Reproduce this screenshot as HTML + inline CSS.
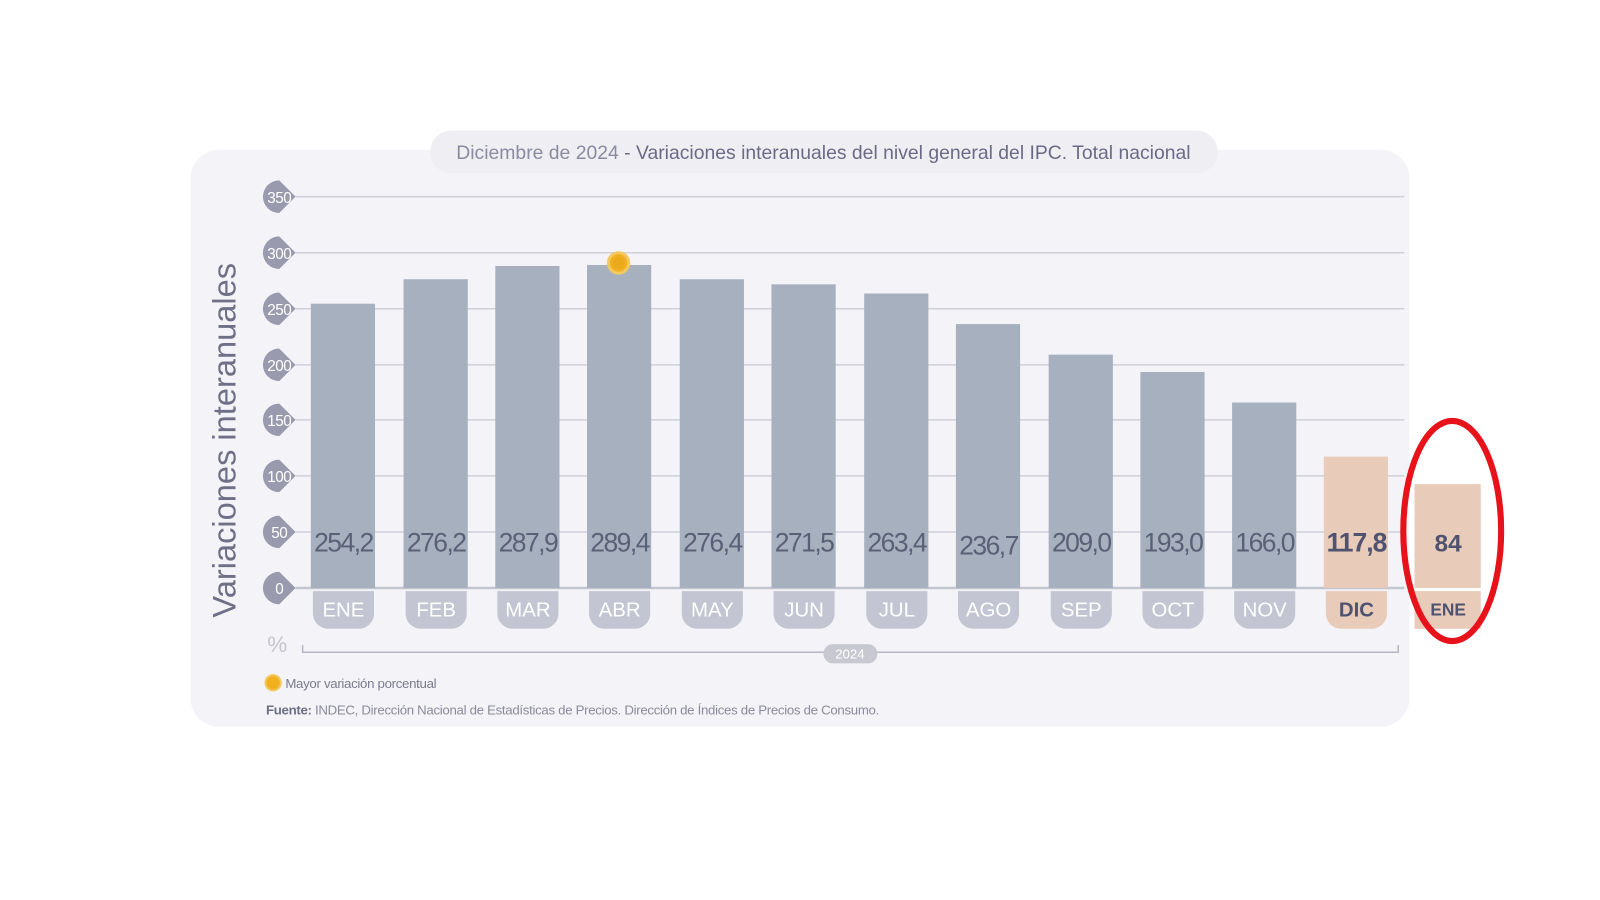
<!DOCTYPE html>
<html><head><meta charset="utf-8"><style>
html,body{margin:0;padding:0;background:#fff;}
svg{display:block;font-family:"Liberation Sans",sans-serif;}
</style></head><body>
<svg width="1600" height="900" viewBox="0 0 1600 900" xmlns="http://www.w3.org/2000/svg">
<rect width="1600" height="900" fill="#fff"/>
<g transform="scale(1.0191)">
<rect x="187" y="147" width="1196" height="566" rx="28" fill="#f4f4f8"/>
<rect x="422" y="128" width="773" height="42" rx="21" fill="#efeff3"/>
<text x="808" y="156" text-anchor="middle" font-size="19" fill="#6b6a86"><tspan fill="#8a8aa0">Diciembre de 2024</tspan> - Variaciones interanuales del nivel general del IPC. Total nacional</text>
<text transform="translate(231,432) rotate(-90)" text-anchor="middle" font-size="32" fill="#6f7088">Variaciones interanuales</text>
<g stroke="#cfd0d8" stroke-width="1.5">
<line x1="290" y1="193" x2="1378" y2="193"/><line x1="290" y1="248" x2="1378" y2="248"/>
<line x1="290" y1="303" x2="1378" y2="303"/><line x1="290" y1="358" x2="1378" y2="358"/>
<line x1="290" y1="412" x2="1378" y2="412"/><line x1="290" y1="467" x2="1378" y2="467"/>
<line x1="290" y1="522" x2="1378" y2="522"/>
</g>
<line x1="290" y1="577" x2="1378" y2="577" stroke="#c3c5cf" stroke-width="2.5"/>
<g fill="#9a9aae">
<path d="M274 177 a16 16 0 1 0 0 32 l16 -16 z"/>
<path d="M274 232 a16 16 0 1 0 0 32 l16 -16 z"/>
<path d="M274 287 a16 16 0 1 0 0 32 l16 -16 z"/>
<path d="M274 342 a16 16 0 1 0 0 32 l16 -16 z"/>
<path d="M274 396 a16 16 0 1 0 0 32 l16 -16 z"/>
<path d="M274 451 a16 16 0 1 0 0 32 l16 -16 z"/>
<path d="M274 506 a16 16 0 1 0 0 32 l16 -16 z"/>
<path d="M274 561 a16 16 0 1 0 0 32 l16 -16 z"/>
</g>
<g fill="#fff" font-size="15" text-anchor="middle" letter-spacing="-0.5">
<text x="274" y="199">350</text><text x="274" y="254">300</text><text x="274" y="309">250</text>
<text x="274" y="364">200</text><text x="274" y="418">150</text><text x="274" y="473">100</text>
<text x="274" y="528">50</text><text x="274" y="583">0</text>
</g>
<g fill="#a6b0be">
<rect x="305" y="298" width="63" height="279"/>
<rect x="396" y="274" width="63" height="303"/>
<rect x="486" y="261" width="63" height="316"/>
<rect x="576" y="260" width="63" height="317"/>
<rect x="667" y="274" width="63" height="303"/>
<rect x="757" y="279" width="63" height="298"/>
<rect x="848" y="288" width="63" height="289"/>
<rect x="938" y="318" width="63" height="259"/>
<rect x="1029" y="348" width="63" height="229"/>
<rect x="1119" y="365" width="63" height="212"/>
<rect x="1209" y="395" width="63" height="182"/>
</g>
<rect x="1299" y="448" width="63" height="129" fill="#e8cbb9"/>
<rect x="1388" y="475" width="65" height="102" fill="#e8cbb9"/>
<g fill="#c3c6d2">
<path d="M307 580 h60 v22 a15 15 0 0 1 -15 15 h-30 a15 15 0 0 1 -15 -15 z"/>
<path d="M398 580 h60 v22 a15 15 0 0 1 -15 15 h-30 a15 15 0 0 1 -15 -15 z"/>
<path d="M488 580 h60 v22 a15 15 0 0 1 -15 15 h-30 a15 15 0 0 1 -15 -15 z"/>
<path d="M578 580 h60 v22 a15 15 0 0 1 -15 15 h-30 a15 15 0 0 1 -15 -15 z"/>
<path d="M669 580 h60 v22 a15 15 0 0 1 -15 15 h-30 a15 15 0 0 1 -15 -15 z"/>
<path d="M759 580 h60 v22 a15 15 0 0 1 -15 15 h-30 a15 15 0 0 1 -15 -15 z"/>
<path d="M850 580 h60 v22 a15 15 0 0 1 -15 15 h-30 a15 15 0 0 1 -15 -15 z"/>
<path d="M940 580 h60 v22 a15 15 0 0 1 -15 15 h-30 a15 15 0 0 1 -15 -15 z"/>
<path d="M1031 580 h60 v22 a15 15 0 0 1 -15 15 h-30 a15 15 0 0 1 -15 -15 z"/>
<path d="M1121 580 h60 v22 a15 15 0 0 1 -15 15 h-30 a15 15 0 0 1 -15 -15 z"/>
<path d="M1211 580 h60 v22 a15 15 0 0 1 -15 15 h-30 a15 15 0 0 1 -15 -15 z"/>
</g>
<path d="M1301 580 h60 v22 a15 15 0 0 1 -15 15 h-30 a15 15 0 0 1 -15 -15 z" fill="#e8cbb9"/>
<rect x="1388" y="580" width="65" height="37" fill="#e8cbb9"/>
<g fill="#fff" font-size="20" text-anchor="middle">
<text x="337" y="605">ENE</text><text x="428" y="605">FEB</text><text x="518" y="605">MAR</text>
<text x="608" y="605">ABR</text><text x="699" y="605">MAY</text><text x="789" y="605">JUN</text>
<text x="880" y="605">JUL</text><text x="970" y="605">AGO</text><text x="1061" y="605">SEP</text>
<text x="1151" y="605">OCT</text><text x="1241" y="605">NOV</text>
</g>
<text x="1331" y="605" text-anchor="middle" font-size="20" font-weight="bold" fill="#4f5370">DIC</text>
<text x="1421" y="604" text-anchor="middle" font-size="17" font-weight="bold" fill="#4f5370">ENE</text>
<g fill="#5a6076" font-size="26" text-anchor="middle" letter-spacing="-1.5">
<text x="337" y="541">254,2</text><text x="428" y="541">276,2</text><text x="518" y="541">287,9</text>
<text x="608" y="541">289,4</text><text x="699" y="541">276,4</text><text x="789" y="541">271,5</text>
<text x="880" y="541">263,4</text><text x="970" y="544">236,7</text><text x="1061" y="541">209,0</text>
<text x="1151" y="541">193,0</text><text x="1241" y="541">166,0</text>
</g>
<text x="1331" y="541" text-anchor="middle" font-size="26" font-weight="bold" letter-spacing="-1" fill="#4f5370">117,8</text>
<text x="1421" y="541" text-anchor="middle" font-size="24" font-weight="bold" fill="#4f5370">84</text>
<circle cx="607" cy="258" r="10" fill="#f0b020" stroke="#f3c85e" stroke-width="3"/>
<circle cx="607" cy="258" r="6" fill="#eba91c"/>
<text x="272" y="640" text-anchor="middle" font-size="22" fill="#c4c4cc">%</text>
<path d="M297 633 v7 h1075 v-7" fill="none" stroke="#b5b6c0" stroke-width="1.5"/>
<rect x="808" y="632" width="53" height="19" rx="9.5" fill="#c8c9d0"/>
<text x="834" y="646" text-anchor="middle" font-size="13" fill="#fff">2024</text>
<circle cx="268" cy="670" r="7.5" fill="#f0b020" stroke="#f3c85e" stroke-width="2"/>
<text x="280" y="675" font-size="13" fill="#7a7a8e" letter-spacing="-0.3">Mayor variación porcentual</text>
<text x="261" y="701" font-size="13" fill="#8a8a9c" letter-spacing="-0.3"><tspan font-weight="bold" fill="#6f6f84">Fuente:</tspan> INDEC, Dirección Nacional de Estadísticas de Precios. Dirección de Índices de Precios de Consumo.</text>
<ellipse cx="1425" cy="521" rx="48" ry="108" fill="none" stroke="#e8121a" stroke-width="6"/>
</g>
</svg>
</body></html>
